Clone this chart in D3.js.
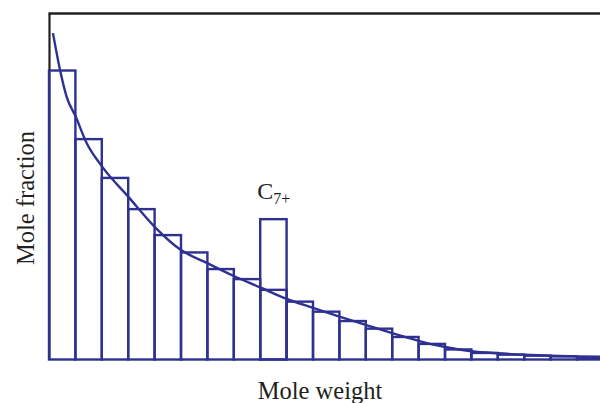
<!DOCTYPE html>
<html>
<head>
<meta charset="utf-8">
<script src="https://cdn.jsdelivr.net/npm/d3@7"></script>
<style>
  html, body { margin: 0; padding: 0; background: #fff; }
  svg { display: block; }
</style>
</head>
<body>
<svg id="chart" width="600" height="403"></svg>
<script>
// ---- data ----
const categories = d3.range(1, 22).map(d => "C" + d);
const barValues = [83.4, 63.6, 52.4, 43.4, 35.9, 30.9, 26.1, 23.2, 20.1, 16.7, 13.8,
                   11.1, 8.9, 6.5, 4.5, 2.9, 1.9, 1.4, 1.1, 0.9, 0.6];
const lumpIndex = 8;          // bar that carries the C7+ lump
const lumpValue = 40.5;
const lumpLabel = "C";
const lumpSub = "7+";
// fitted distribution curve: [position in bar units, value]
const curveX = [0.15, 0.42, 0.67, 1.01, 1.43, 2.02, 3.0, 4.0, 5.0, 6.0, 7.0, 8.0, 9.0, 10.0,
                11.0, 12.0, 13.0, 14.0, 15.0, 16.0, 17.0, 18.0, 19.0, 20.0, 20.95];
const curveY = [94.2, 83.5, 75.8, 70.1, 62.4, 55.6, 47.0, 38.3, 31.6, 27.8, 24.1, 20.8, 17.5, 14.9,
                12.4, 10.0, 7.6, 5.4, 3.6, 2.4, 1.8, 1.4, 1.1, 0.9, 0.8];
const xTitle = "Mole weight";
const yTitle = "Mole fraction";

// ---- layout ----
const svg = d3.select("#chart");
const mLeft = 49, mTop = 13, mBottom = 359.5, barW = 26.4;
const mRight = mLeft + barW * categories.length;
const blue = "#2e3192", black = "#231f20";
const sw = 2.4;

const x = d3.scaleBand().domain(categories).range([mLeft, mRight]).padding(0);
const xu = d3.scaleLinear().domain([0, categories.length]).range([mLeft, mRight]);
const y = d3.scaleLinear().domain([0, 100]).range([mBottom, mTop]);

// axes (left and top frame lines)
svg.append("g").attr("transform", `translate(${mLeft},0)`)
  .call(d3.axisLeft(y).tickValues([]).tickSizeOuter(0))
  .call(g => g.select(".domain").attr("stroke", black).attr("stroke-width", 2.2));
svg.append("g").attr("transform", `translate(0,${mTop})`)
  .call(d3.axisTop(d3.scaleLinear().domain([0, 1]).range([mLeft - 1, 600])).tickValues([]).tickSizeOuter(0))
  .call(g => g.select(".domain").attr("stroke", black).attr("stroke-width", 2.5));

// bars
svg.append("g").selectAll("rect.bar")
  .data(barValues)
  .join("rect")
  .attr("class", "bar")
  .attr("x", (d, i) => x(categories[i]))
  .attr("y", d => y(d))
  .attr("width", x.bandwidth())
  .attr("height", d => y(0) - y(d))
  .attr("fill", "none")
  .attr("stroke", blue)
  .attr("stroke-width", sw);

// lump bar
svg.append("rect")
  .attr("x", x(categories[lumpIndex]))
  .attr("y", y(lumpValue))
  .attr("width", x.bandwidth())
  .attr("height", y(0) - y(lumpValue))
  .attr("fill", "none")
  .attr("stroke", blue)
  .attr("stroke-width", sw);

// curve
const pts = curveX.map((v, i) => [v, curveY[i]]);
svg.append("path")
  .datum(pts)
  .attr("d", d3.line().x(d => xu(d[0])).y(d => y(d[1])).curve(d3.curveMonotoneX))
  .attr("fill", "none")
  .attr("stroke", blue)
  .attr("stroke-width", sw);

// labels
const serif = "'Liberation Serif', 'DejaVu Serif', serif";
const lbl = svg.append("text")
  .attr("x", x(categories[lumpIndex]) - 3)
  .attr("y", y(lumpValue) - 20.5)
  .attr("font-family", serif)
  .attr("font-size", 24)
  .attr("fill", black);
lbl.append("tspan").text(lumpLabel);
lbl.append("tspan").attr("font-size", 16).attr("dy", 5).text(lumpSub);

svg.append("text")
  .attr("x", (mLeft + 600) / 2 - 4.5)
  .attr("y", 399)
  .attr("text-anchor", "middle")
  .attr("font-family", serif)
  .attr("font-size", 24.5)
  .attr("fill", black)
  .text(xTitle);

svg.append("text")
  .attr("transform", `translate(33.5,198) rotate(-90)`)
  .attr("text-anchor", "middle")
  .attr("font-family", serif)
  .attr("font-size", 24.5)
  .attr("fill", black)
  .text(yTitle);
</script>
</body>
</html>
